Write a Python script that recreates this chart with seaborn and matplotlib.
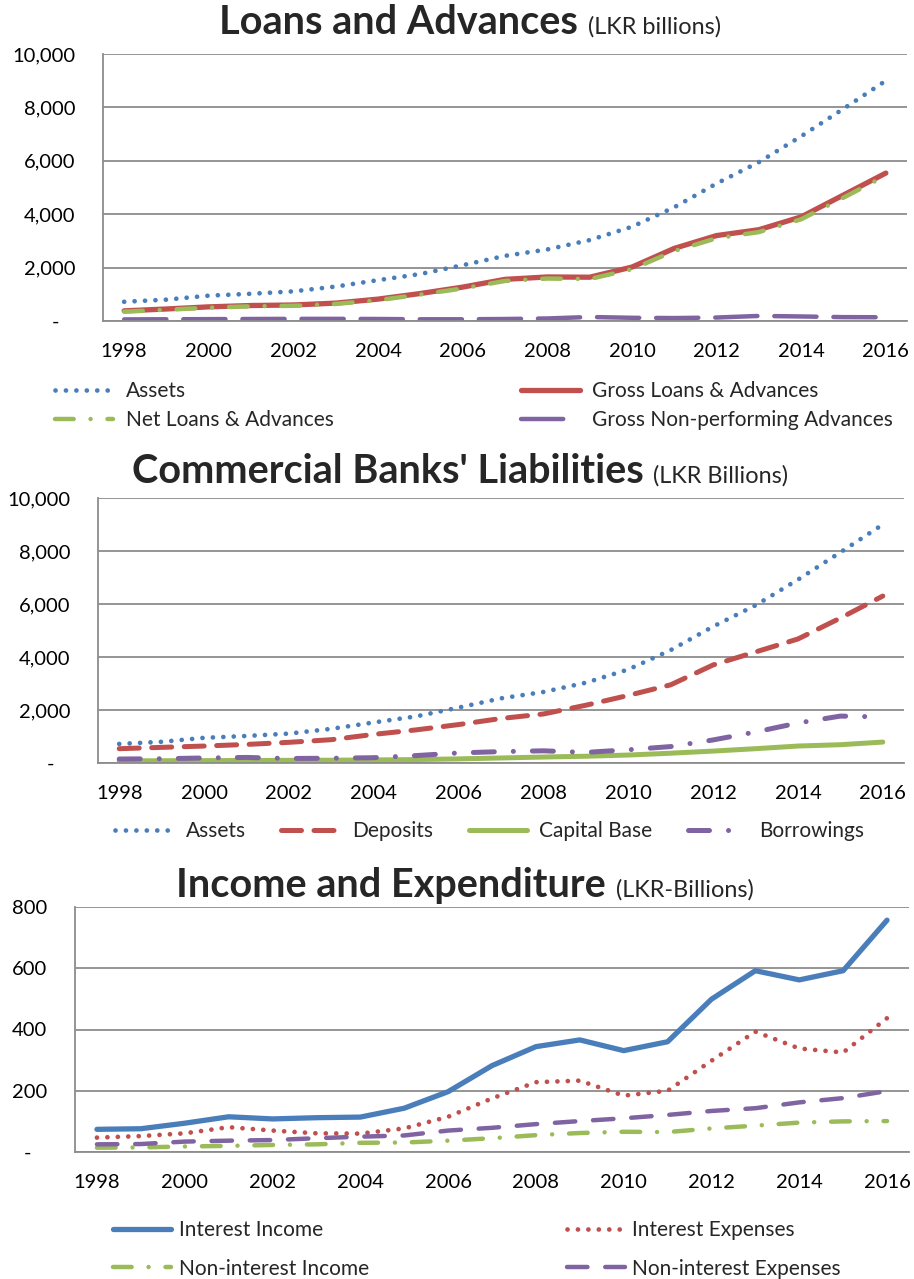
import numpy as np
import pandas as pd
import matplotlib
matplotlib.use('Agg')
import matplotlib.pyplot as plt
from matplotlib.ticker import FuncFormatter
import seaborn as sns

# ---- data (LKR billions) ----
years = list(range(1998, 2017))

assets = [720, 800, 950, 1020, 1110, 1290, 1530, 1760, 2090, 2440, 2680, 3030, 3530,
          4260, 5150, 5950, 6920, 7950, 9000]
gross_loans = [380, 450, 530, 580, 600, 670, 820, 1030, 1270, 1560, 1650, 1640, 2020,
               2720, 3200, 3420, 3900, 4720, 5540]
net_loans = [350, 420, 500, 550, 570, 640, 780, 990, 1220, 1500, 1590, 1570, 1940,
             2620, 3100, 3330, 3810, 4620, 5450]
gross_npa = [60, 65, 70, 75, 80, 80, 75, 65, 65, 75, 95, 150, 120, 110, 130, 190, 170, 145, 140]

deposits = [540, 590, 640, 700, 780, 880, 1080, 1250, 1450, 1680, 1850, 2180, 2550,
            2950, 3700, 4190, 4680, 5470, 6300]
capital_base = [80, 85, 90, 95, 100, 105, 115, 130, 155, 190, 225, 255, 300,
                370, 450, 540, 640, 690, 790]
borrowings = [150, 160, 190, 210, 170, 180, 200, 280, 380, 430, 460, 400, 500,
              620, 870, 1170, 1510, 1770, 1740]

interest_income = [74, 76, 94, 115, 108, 112, 114, 143, 197, 282, 344, 366, 331,
                   360, 499, 592, 562, 592, 757]
interest_expenses = [47, 52, 61, 81, 70, 61, 60, 77, 115, 175, 228, 233, 184,
                     200, 298, 393, 338, 325, 437]
non_int_income = [14, 15, 18, 20, 23, 25, 30, 31, 37, 45, 55, 62, 66, 65, 77, 86, 96, 100, 101]
non_int_expenses = [25, 26, 34, 37, 39, 45, 50, 54, 70, 79, 91, 101, 110, 121, 134, 143, 162, 176, 199]

# ---- styles ----
BLUE = '#4A7EBB'
RED = '#C0504D'
GREEN = '#9BBB59'
PURPLE = '#8064A2'
GRID = '#8C8C8C'
DOT = (0, (0.01, 2.2))
DASH = (0, (4.0, 2.5))
DASH_WIDE = (0, (4.6, 4.0))
LONGDASH = (0, (9.5, 3.8))
DASHDOT = (0, (4.2, 3.8, 0.01, 3.8))

W, H = 914, 1279
sns.set_theme(style='white')
plt.rcParams['font.family'] = ['Lato', 'DejaVu Sans']
TICK_FS = 14.5
LEG_FS = 15

fig = plt.figure(figsize=(W / 100, H / 100), dpi=100)
fig.patch.set_facecolor('white')


def make_axes(left, right, top, bottom):
    return fig.add_axes([left / W, 1 - bottom / H, (right - left) / W, (bottom - top) / H])


def style_axes(ax, ymax, ystep):
    ax.set_xlim(1997.5, 2016.5)
    ax.set_ylim(0, ymax)
    ax.set_yticks(np.arange(0, ymax + 1, ystep))
    ax.set_xticks(range(1998, 2017, 2))
    ax.yaxis.set_major_formatter(FuncFormatter(lambda v, p: '-   ' if v == 0 else f'{v:,.0f}'))
    ax.grid(axis='y', color=GRID, lw=1.3)
    ax.grid(axis='x', visible=False)
    ax.set_axisbelow(True)
    for s in ['top', 'right']:
        ax.spines[s].set_visible(False)
    for s in ['left', 'bottom']:
        ax.spines[s].set_color(GRID)
        ax.spines[s].set_linewidth(1.3)
    ax.tick_params(axis='y', length=0, pad=20, labelsize=TICK_FS, labelcolor='black')
    ax.tick_params(axis='x', length=0, pad=16, labelsize=TICK_FS, labelcolor='black')
    ax.set_xlabel('')
    ax.set_ylabel('')


def draw(ax, values, label, color, lw, ls):
    sns.lineplot(x=years, y=values, ax=ax, color=color, linewidth=lw, linestyle=ls,
                 label=label, dash_capstyle='round', solid_capstyle='round')
    return ax.get_lines()[-1]


def title(cx, base_y, bold, sub, bsize, ssize, gap=10):
    t1 = fig.text(0, 1 - base_y / H, bold, fontsize=bsize, fontweight='bold', va='baseline', ha='left')
    t2 = fig.text(0, 1 - base_y / H, sub, fontsize=ssize, va='baseline', ha='left')
    r = fig.canvas.get_renderer()
    w1 = t1.get_window_extent(r).width
    w2 = t2.get_window_extent(r).width
    x0 = cx - (w1 + gap + w2) / 2
    t1.set_x(x0 / W)
    t2.set_x((x0 + w1 + gap) / W)


def legend(handles, x, y, ncol, colsp, textpad, labsp):
    fig.legend(handles, [h.get_label() for h in handles], loc='upper left',
               bbox_to_anchor=(x / W, 1 - y / H), ncol=ncol, frameon=False,
               borderpad=0, borderaxespad=0, handlelength=2.8, handletextpad=textpad,
               columnspacing=colsp, labelspacing=labsp, fontsize=LEG_FS)


# ---- panel 1: Loans and Advances ----
ax1 = make_axes(103, 907, 54, 321)
h_assets = draw(ax1, assets, 'Assets', BLUE, 3.4, DOT)
h_gross = draw(ax1, gross_loans, 'Gross Loans & Advances', RED, 3.8, '-')
h_net = draw(ax1, net_loans, 'Net Loans & Advances', GREEN, 3.2, DASHDOT)
h_npa = draw(ax1, gross_npa, 'Gross Non-performing Advances', PURPLE, 3.2, LONGDASH)
ax1.get_legend().remove()
style_axes(ax1, 10000, 2000)
title(470, 34, 'Loans and Advances', '(LKR billions)', 28.5, 16.9)
legend([h_assets, h_net, h_gross, h_npa], 55, 381, 2, 9.0, 0.6, 0.45)

# ---- panel 2: Commercial Banks' Liabilities ----
ax2 = make_axes(98, 904, 498, 763)
h2a = draw(ax2, assets, 'Assets', BLUE, 3.4, DOT)
h2d = draw(ax2, deposits, 'Deposits', RED, 3.6, DASH)
h2c = draw(ax2, capital_base, 'Capital Base', GREEN, 3.6, '-')
h2b = draw(ax2, borrowings, 'Borrowings', PURPLE, 3.6, DASHDOT)
ax2.get_legend().remove()
style_axes(ax2, 10000, 2000)
title(460, 483, "Commercial Banks' Liabilities", '(LKR Billions)', 28.5, 16.9)
legend([h2a, h2d, h2c, h2b], 115, 821, 4, 1.7, 0.6, 0.5)

# ---- panel 3: Income and Expenditure ----
ax3 = make_axes(75, 909, 907, 1152)
h3a = draw(ax3, interest_income, 'Interest Income', BLUE, 3.8, '-')
h3b = draw(ax3, interest_expenses, 'Interest Expenses', RED, 3.4, DOT)
h3c = draw(ax3, non_int_income, 'Non-interest Income', GREEN, 3.2, DASHDOT)
h3d = draw(ax3, non_int_expenses, 'Non-interest Expenses', PURPLE, 3.2, DASH_WIDE)
ax3.get_legend().remove()
style_axes(ax3, 800, 200)
title(465, 897, 'Income and Expenditure', '(LKR-Billions)', 28.5, 16.9)
legend([h3a, h3c, h3b, h3d], 113, 1220, 2, 9.5, 0.35, 0.9)

fig.savefig('out.png', dpi=100, facecolor='white')
